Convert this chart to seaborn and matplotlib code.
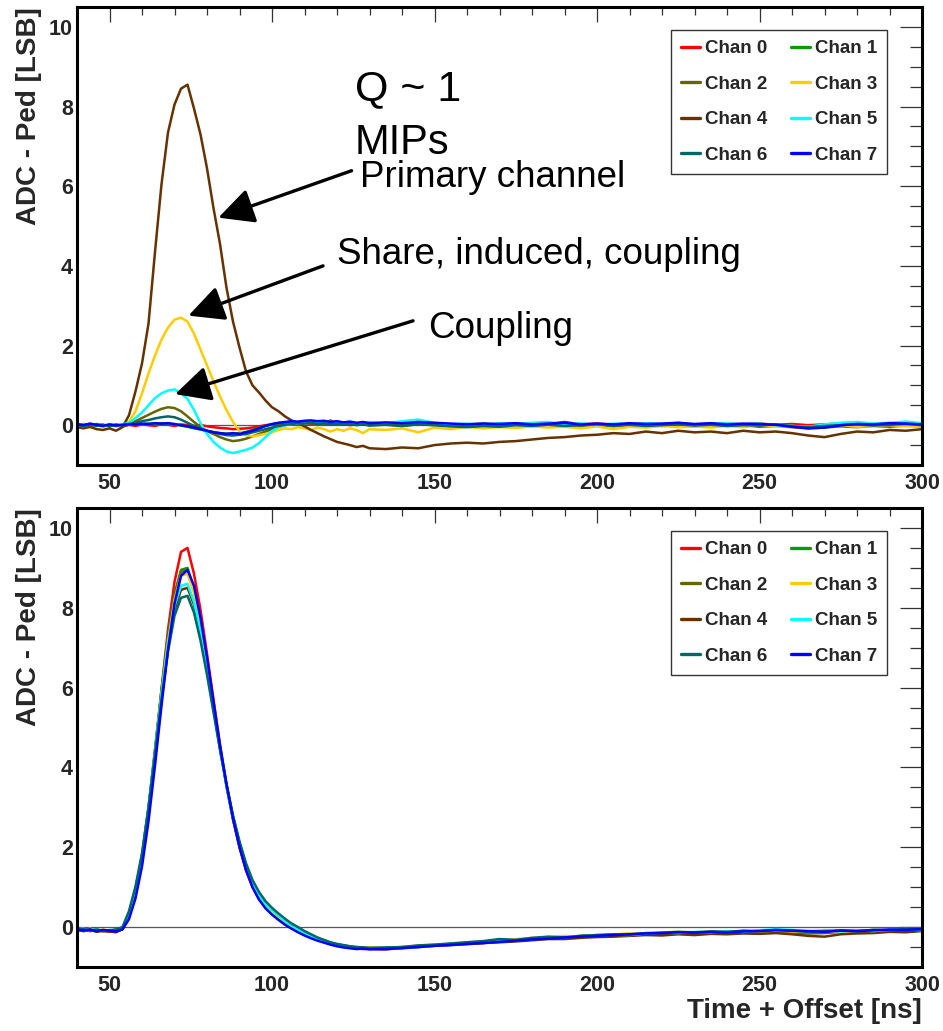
import numpy as np
import pandas as pd
import matplotlib
matplotlib.use("Agg")
import matplotlib.pyplot as plt
from matplotlib.ticker import MultipleLocator
from matplotlib.font_manager import FontProperties
import seaborn as sns

# ---------------- data ----------------
time_ns = list(range(40, 131, 2)) + list(range(135, 301, 5))
channels = ["Chan 0", "Chan 1", "Chan 2", "Chan 3", "Chan 4", "Chan 5", "Chan 6", "Chan 7"]
colors = ["#FF0000", "#0A990A", "#666600", "#FFCC00", "#663300", "#00FFFF", "#006666", "#0000FF"]

# Top panel: single injected channel (Q ~ 1 MIP)
top_chan0 = [0.02,-0.02,0.03,-0.01,0.01,-0.03,0.02,-0.04,0.01,-0.02,
             0.02,0.00,-0.02,0.03,0.01,-0.02,0.02,0.00,-0.02,0.01,
             -0.03,-0.05,-0.07,-0.08,-0.10,-0.09,-0.08,-0.06,-0.03,0.00,
             0.02,0.04,0.03,0.05,0.04,0.06,0.03,0.05,0.02,0.04,
             0.01,0.03,0.00,0.02,0.04,0.01,
             0.03,0.00,0.02,0.04,0.01,0.03,0.00,0.02,0.04,0.01,
             0.03,0.08,0.02,0.04,0.01,0.03,0.00,0.02,0.04,0.01,
             0.03,0.00,0.02,0.04,0.01,0.03,0.00,0.02,0.04,0.01,
             0.03,0.00,0.02,0.03]
top_chan1 = [-0.03,0.02,-0.01,0.03,0.00,-0.02,0.02,0.00,0.01,0.03,
             0.02,0.04,0.03,0.05,0.04,0.02,-0.01,-0.04,-0.08,-0.11,
             -0.15,-0.17,-0.20,-0.21,-0.22,-0.20,-0.17,-0.12,-0.07,-0.02,
             0.02,0.05,0.06,0.08,0.07,0.09,0.06,0.08,0.05,0.07,
             0.04,0.06,0.03,0.05,0.02,0.04,
             0.02,0.04,0.01,0.03,0.00,0.02,0.04,0.01,0.03,0.00,
             0.02,0.05,0.01,0.03,0.00,0.02,0.04,0.01,0.03,0.00,
             0.02,0.04,0.01,0.03,0.00,-0.02,-0.04,0.00,0.02,0.04,
             0.01,0.03,0.05,0.02]
top_chan2 = [-0.02,0.03,-0.01,0.02,-0.03,0.01,-0.02,0.00,0.03,0.10,
             0.18,0.26,0.34,0.41,0.45,0.43,0.35,0.22,0.08,-0.05,
             -0.15,-0.22,-0.30,-0.36,-0.40,-0.38,-0.34,-0.28,-0.22,-0.16,
             -0.10,-0.05,0.00,0.03,0.05,0.06,0.04,0.06,0.03,0.12,
             0.04,0.02,0.05,0.01,0.03,0.00,
             0.02,-0.02,0.03,0.00,-0.02,0.02,0.00,-0.03,0.01,-0.02,
             0.02,0.00,-0.02,0.01,-0.03,0.00,0.02,-0.02,0.00,-0.03,
             0.01,-0.02,0.00,-0.04,-0.02,-0.05,-0.08,-0.06,-0.03,-0.05,
             -0.02,-0.04,-0.01,-0.03]
top_chan3 = [-0.05,0.02,-0.06,0.00,-0.04,0.02,-0.03,0.00,0.08,0.35,
             0.80,1.30,1.75,2.15,2.45,2.65,2.70,2.60,2.30,1.90,
             1.50,1.10,0.72,0.38,0.08,-0.15,-0.25,-0.28,-0.25,-0.22,
             -0.18,-0.12,-0.08,-0.10,-0.05,-0.08,-0.12,-0.06,-0.10,-0.16,
             -0.10,-0.14,-0.08,-0.12,-0.20,-0.10,
             -0.12,-0.08,-0.18,-0.06,-0.10,-0.04,-0.08,-0.05,-0.07,-0.03,
             -0.06,-0.04,-0.08,-0.03,-0.10,-0.04,-0.06,-0.02,-0.05,-0.03,
             -0.06,-0.02,-0.05,0.00,-0.04,-0.02,-0.05,-0.03,0.00,-0.04,
             -0.02,0.00,-0.03,-0.02]
top_chan4 = [-0.05,-0.08,-0.04,-0.10,-0.12,-0.08,-0.14,-0.05,0.25,0.85,
             1.55,2.55,4.35,6.05,7.35,8.05,8.45,8.55,7.95,7.30,
             6.45,5.45,4.55,3.45,2.60,1.95,1.35,1.00,0.82,0.62,
             0.45,0.35,0.22,0.12,0.05,-0.03,-0.12,-0.20,-0.28,-0.35,
             -0.42,-0.46,-0.50,-0.55,-0.52,-0.58,
             -0.60,-0.56,-0.58,-0.50,-0.46,-0.44,-0.46,-0.42,-0.40,-0.36,
             -0.32,-0.30,-0.26,-0.24,-0.20,-0.22,-0.16,-0.20,-0.14,-0.18,
             -0.16,-0.20,-0.14,-0.18,-0.16,-0.20,-0.26,-0.30,-0.22,-0.16,
             -0.18,-0.12,-0.14,-0.10]
top_chan5 = [0.02,-0.03,0.03,0.00,-0.02,0.03,0.00,0.02,0.06,0.18,
             0.32,0.50,0.68,0.80,0.87,0.90,0.80,0.66,0.38,0.05,
             -0.22,-0.42,-0.56,-0.66,-0.70,-0.66,-0.62,-0.56,-0.45,-0.30,
             -0.15,-0.05,0.00,0.03,0.05,0.06,0.08,0.05,0.07,0.04,
             0.06,0.03,0.05,0.02,0.06,0.08,
             0.04,0.10,0.14,0.06,0.02,0.04,0.00,0.05,0.03,0.06,
             0.08,0.02,0.05,0.00,0.04,0.02,0.05,0.03,0.06,0.02,
             0.04,0.05,0.02,0.04,0.00,-0.02,-0.04,0.02,0.06,0.08,
             0.04,0.06,0.09,0.05]
top_chan6 = [0.00,-0.03,0.02,-0.02,0.01,-0.02,0.00,-0.01,0.02,0.06,
             0.10,0.13,0.17,0.20,0.22,0.20,0.14,0.06,-0.02,-0.08,
             -0.14,-0.18,-0.22,-0.25,-0.26,-0.24,-0.22,-0.18,-0.14,-0.10,
             -0.06,-0.02,0.01,0.03,0.05,0.04,0.06,0.03,0.05,0.02,
             0.04,0.01,0.03,0.00,0.02,-0.01,
             0.01,-0.02,0.02,0.00,-0.03,-0.05,-0.02,-0.04,0.00,-0.02,
             0.01,-0.02,0.00,0.02,-0.01,0.01,-0.02,0.00,0.02,-0.01,
             0.01,-0.02,0.00,-0.01,0.02,-0.03,-0.05,-0.02,0.00,0.02,
             -0.01,0.01,0.03,0.00]
top_chan7 = [0.03,0.00,0.04,0.01,-0.02,0.02,-0.01,0.01,0.03,0.02,
             0.04,0.03,0.05,0.04,0.05,0.03,0.00,-0.03,-0.06,-0.10,
             -0.14,-0.18,-0.20,-0.22,-0.20,-0.22,-0.18,-0.14,-0.08,-0.02,
             0.03,0.06,0.08,0.10,0.09,0.11,0.12,0.10,0.11,0.08,
             0.10,0.07,0.09,0.06,0.08,0.05,
             0.07,0.05,0.08,0.06,0.04,0.02,0.04,0.03,0.05,0.02,
             0.04,0.06,0.02,0.04,0.02,0.05,0.03,0.04,0.06,0.03,
             0.05,0.02,0.04,0.03,0.01,-0.04,-0.08,-0.06,0.00,0.03,
             0.02,0.05,0.04,0.02]

# Bottom panel: all channels injected
bot_chan0 = [-0.08,-0.05,-0.10,-0.06,-0.09,-0.12,-0.08,-0.04,0.30,0.85,
             1.70,2.90,4.35,5.95,7.45,8.65,9.40,9.50,8.85,7.95,
             6.85,5.70,4.55,3.55,2.70,2.00,1.42,1.00,0.70,0.50,
             0.35,0.22,0.10,0.00,-0.09,-0.17,-0.24,-0.30,-0.36,-0.42,
             -0.46,-0.49,-0.52,-0.53,-0.55,-0.54,
             -0.56,-0.52,-0.50,-0.46,-0.44,-0.41,-0.40,-0.36,-0.34,-0.30,
             -0.28,-0.26,-0.24,-0.22,-0.20,-0.22,-0.16,-0.18,-0.14,-0.16,
             -0.14,-0.12,-0.14,-0.10,-0.08,-0.10,-0.12,-0.14,-0.10,-0.12,
             -0.08,-0.10,-0.06,-0.04]
bot_chan1 = [-0.06,-0.10,-0.07,-0.11,-0.08,-0.10,-0.06,-0.02,0.35,0.95,
             1.80,3.00,4.45,5.95,7.30,8.35,8.95,9.00,8.45,7.62,
             6.62,5.55,4.48,3.52,2.70,2.02,1.46,1.05,0.76,0.54,
             0.38,0.25,0.13,0.02,-0.08,-0.16,-0.23,-0.30,-0.35,-0.41,
             -0.45,-0.48,-0.50,-0.52,-0.51,-0.53,
             -0.52,-0.50,-0.47,-0.45,-0.43,-0.40,-0.37,-0.35,-0.32,-0.29,
             -0.27,-0.24,-0.23,-0.21,-0.19,-0.17,-0.18,-0.15,-0.13,-0.15,
             -0.12,-0.13,-0.10,-0.11,-0.08,-0.10,-0.13,-0.12,-0.09,-0.11,
             -0.07,-0.09,-0.06,-0.05]
bot_chan2 = [-0.09,-0.06,-0.10,-0.07,-0.11,-0.08,-0.10,-0.03,0.33,0.92,
             1.78,2.98,4.42,5.90,7.25,8.30,8.90,8.95,8.42,7.60,
             6.62,5.56,4.50,3.56,2.74,2.06,1.50,1.08,0.79,0.57,
             0.41,0.28,0.15,0.04,-0.06,-0.14,-0.22,-0.29,-0.34,-0.40,
             -0.44,-0.47,-0.50,-0.51,-0.53,-0.52,
             -0.54,-0.51,-0.48,-0.46,-0.42,-0.40,-0.38,-0.34,-0.33,-0.30,
             -0.26,-0.25,-0.22,-0.20,-0.21,-0.18,-0.16,-0.17,-0.14,-0.15,
             -0.13,-0.14,-0.11,-0.12,-0.10,-0.13,-0.16,-0.15,-0.12,-0.13,
             -0.10,-0.11,-0.08,-0.07]
bot_chan3 = [-0.05,-0.08,-0.04,-0.09,-0.06,-0.10,-0.07,-0.02,0.30,0.88,
             1.72,2.90,4.33,5.82,7.15,8.20,8.80,8.85,8.38,7.58,
             6.62,5.58,4.54,3.58,2.75,2.06,1.48,1.05,0.76,0.54,
             0.38,0.25,0.12,0.02,-0.08,-0.17,-0.25,-0.31,-0.37,-0.42,
             -0.45,-0.48,-0.50,-0.49,-0.52,-0.50,
             -0.53,-0.50,-0.46,-0.44,-0.42,-0.38,-0.36,-0.33,-0.30,-0.27,
             -0.25,-0.22,-0.24,-0.20,-0.18,-0.16,-0.18,-0.13,-0.12,-0.14,
             -0.11,-0.13,-0.10,-0.12,-0.09,-0.11,-0.12,-0.10,-0.13,-0.10,
             -0.12,-0.08,-0.10,-0.07]
bot_chan4 = [-0.07,-0.10,-0.06,-0.12,-0.09,-0.11,-0.13,-0.05,0.32,0.90,
             1.72,2.88,4.25,5.70,6.98,7.95,8.45,8.50,8.08,7.35,
             6.45,5.47,4.48,3.56,2.76,2.10,1.54,1.12,0.82,0.60,
             0.44,0.30,0.17,0.06,-0.04,-0.13,-0.21,-0.28,-0.34,-0.40,
             -0.44,-0.46,-0.49,-0.51,-0.52,-0.54,
             -0.55,-0.52,-0.50,-0.47,-0.45,-0.43,-0.40,-0.38,-0.36,-0.33,
             -0.30,-0.30,-0.27,-0.25,-0.24,-0.22,-0.20,-0.21,-0.18,-0.20,
             -0.17,-0.18,-0.16,-0.17,-0.15,-0.18,-0.22,-0.24,-0.18,-0.16,
             -0.15,-0.12,-0.13,-0.10]
bot_chan5 = [-0.06,-0.04,-0.08,-0.05,-0.10,-0.07,-0.09,-0.02,0.36,0.97,
             1.80,2.97,4.38,5.82,7.08,8.05,8.55,8.60,8.15,7.40,
             6.48,5.48,4.48,3.55,2.74,2.07,1.51,1.09,0.80,0.58,
             0.42,0.29,0.15,0.04,-0.06,-0.15,-0.23,-0.30,-0.36,-0.41,
             -0.45,-0.48,-0.51,-0.52,-0.54,-0.53,
             -0.55,-0.53,-0.50,-0.46,-0.44,-0.41,-0.38,-0.36,-0.33,-0.30,
             -0.27,-0.25,-0.23,-0.21,-0.19,-0.20,-0.16,-0.14,-0.15,-0.12,
             -0.13,-0.10,-0.12,-0.08,-0.05,-0.07,-0.10,-0.08,-0.11,-0.08,
             -0.10,-0.07,-0.05,-0.08]
bot_chan6 = [-0.08,-0.05,-0.09,-0.06,-0.10,-0.08,-0.06,0.00,0.40,1.02,
             1.85,3.00,4.35,5.72,6.90,7.80,8.25,8.30,7.88,7.18,
             6.32,5.38,4.44,3.58,2.80,2.15,1.60,1.18,0.88,0.65,
             0.48,0.34,0.21,0.09,0.00,-0.10,-0.18,-0.26,-0.32,-0.38,
             -0.42,-0.45,-0.48,-0.50,-0.51,-0.52,
             -0.51,-0.50,-0.46,-0.44,-0.41,-0.38,-0.35,-0.30,-0.32,-0.27,
             -0.24,-0.26,-0.22,-0.20,-0.18,-0.19,-0.15,-0.14,-0.12,-0.13,
             -0.11,-0.12,-0.09,-0.10,-0.08,-0.09,-0.12,-0.10,-0.08,-0.10,
             -0.07,-0.08,-0.05,-0.06]
bot_chan7 = [-0.05,-0.08,-0.06,-0.10,-0.07,-0.09,-0.11,-0.06,0.20,0.72,
             1.52,2.65,4.05,5.55,6.95,8.10,8.80,8.95,8.55,7.75,
             6.75,5.66,4.57,3.58,2.72,2.00,1.43,1.00,0.69,0.47,
             0.31,0.18,0.06,-0.04,-0.13,-0.21,-0.28,-0.34,-0.39,-0.44,
             -0.48,-0.51,-0.53,-0.55,-0.54,-0.56,
             -0.55,-0.53,-0.50,-0.47,-0.45,-0.42,-0.40,-0.37,-0.34,-0.31,
             -0.29,-0.26,-0.24,-0.22,-0.20,-0.18,-0.16,-0.15,-0.13,-0.14,
             -0.12,-0.13,-0.11,-0.10,-0.07,-0.09,-0.10,-0.12,-0.09,-0.10,
             -0.08,-0.06,-0.07,-0.05]

top_series = [top_chan0, top_chan1, top_chan2, top_chan3, top_chan4, top_chan5, top_chan6, top_chan7]
bot_series = [bot_chan0, bot_chan1, bot_chan2, bot_chan3, bot_chan4, bot_chan5, bot_chan6, bot_chan7]


def to_long(series_list):
    frames = []
    for name, vals in zip(channels, series_list):
        frames.append(pd.DataFrame({"t": time_ns, "v": vals, "chan": name}))
    return pd.concat(frames, ignore_index=True)


# ---------------- style ----------------
sns.set_theme(style="white")
plt.rcParams["font.family"] = ["Liberation Sans", "DejaVu Sans"]
plt.rcParams["font.weight"] = "bold"
plt.rcParams["axes.labelweight"] = "bold"

W, H = 943, 1031
fig = plt.figure(figsize=(W / 100, H / 100), dpi=100)
ax_top = fig.add_axes([77 / W, 1 - 465 / H, 845 / W, 458 / H])
ax_bot = fig.add_axes([77 / W, 1 - 967 / H, 845 / W, 459 / H])

legend_font = FontProperties(family="Liberation Sans", weight="bold", size=13.5)
order = [0, 2, 4, 6, 1, 3, 5, 7]

for ax, series in [(ax_top, top_series), (ax_bot, bot_series)]:
    ax.set_facecolor("white")
    ax.axhline(0, color="#555555", lw=0.9, zorder=1)
    sns.lineplot(data=to_long(series), x="t", y="v", hue="chan", hue_order=channels,
                 palette=colors, estimator=None, sort=False, lw=1.8, ax=ax, legend=True)
    ax.set_xlim(40, 300)
    ax.set_ylim(-1, 10.5)
    ax.xaxis.set_major_locator(MultipleLocator(50))
    ax.xaxis.set_minor_locator(MultipleLocator(10))
    ax.yaxis.set_major_locator(MultipleLocator(2))
    ax.yaxis.set_minor_locator(MultipleLocator(0.5))
    ax.tick_params(axis="both", which="both", direction="in", top=True, right=True,
                   color="#333333", width=0.9, labelsize=15.5)
    ax.tick_params(axis="y", which="major", length=16, pad=3)
    ax.tick_params(axis="y", which="minor", length=8.5)
    ax.tick_params(axis="x", which="major", length=10.5, pad=6)
    ax.tick_params(axis="x", which="minor", length=5.5)
    for sp in ax.spines.values():
        sp.set_linewidth(2.2)
        sp.set_color("black")
    ax.grid(False)
    ax.set_xlabel("")
    ax.set_ylabel("ADC - Ped [LSB]", loc="top", fontsize=20, fontweight="bold")
    ax.yaxis.set_label_coords(-0.041, 1.0)

    handles, labels = ax.get_legend_handles_labels()
    hs = [handles[i] for i in order]
    ls = [labels[i] for i in order]
    leg = ax.legend(hs, ls, ncol=2, loc="upper left",
                    bbox_to_anchor=(0.703, 0.642, 0.256, 0.308), mode="expand",
                    borderaxespad=0, frameon=True, fancybox=False, edgecolor="black",
                    prop=legend_font, handlelength=1.0, handletextpad=0.25,
                    labelspacing=0.98, borderpad=0.55, columnspacing=0.9)
    leg.get_frame().set_linewidth(1.0)
    for ln in leg.get_lines():
        ln.set_linewidth(2.4)

ax_bot.set_xlabel("Time + Offset [ns]", loc="right", fontsize=20, fontweight="bold")
ax_bot.xaxis.set_label_coords(1.0, -0.068)

# ---------------- annotations (top panel) ----------------
note = dict(fontweight="normal", family="Liberation Sans", ha="left", va="baseline", color="black")
ax_top.text(125.5, 8.15, "Q ~ 1", fontsize=31, **note)
ax_top.text(125.5, 6.80, "MIPs", fontsize=30, **note)
ax_top.text(127.1, 5.97, "Primary channel", fontsize=26.5, **note)
ax_top.text(119.9, 4.05, "Share, induced, coupling", fontsize=26.5, **note)
ax_top.text(148.1, 2.20, "Coupling", fontsize=26.5, **note)

arrow = dict(arrowstyle="-|>,head_length=0.9,head_width=0.45", lw=2.4, color="black",
             mutation_scale=24, shrinkA=0, shrinkB=0)
ax_top.annotate("", xy=(83.5, 5.21), xytext=(124.5, 6.39), arrowprops=arrow)
ax_top.annotate("", xy=(74.3, 2.75), xytext=(115.7, 4.00), arrowprops=arrow)
ax_top.annotate("", xy=(70.2, 0.78), xytext=(143.4, 2.62), arrowprops=arrow)

fig.savefig("out.png", dpi=100, facecolor="white")
